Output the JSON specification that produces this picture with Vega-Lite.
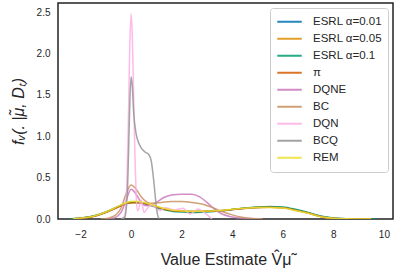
{
  "$schema": "https://vega.github.io/schema/vega-lite/v6.json",
  "width": 335,
  "height": 216,
  "autosize": "none",
  "padding": {"left": 58, "top": 3, "right": 4, "bottom": 53},
  "config": {
    "font": "Liberation Sans",
    "view": {"stroke": "#222222", "strokeWidth": 1.5},
    "axis": {"grid": false, "domain": false, "ticks": false, "labelFontSize": 10, "labelColor": "#262626", "titleColor": "#262626", "titleFontWeight": "normal", "titleFontSize": 16}
  },
  "datasets": {
    "d": [
      {"s":"ESRL α=0.01","x":-2.3,"y":0.002},{"s":"ESRL α=0.01","x":-2,"y":0.01},{"s":"ESRL α=0.01","x":-1.5,"y":0.032},{"s":"ESRL α=0.01","x":-1,"y":0.082},{"s":"ESRL α=0.01","x":-0.5,"y":0.15},{"s":"ESRL α=0.01","x":-0.2,"y":0.19},{"s":"ESRL α=0.01","x":0.1,"y":0.205},{"s":"ESRL α=0.01","x":0.4,"y":0.2},{"s":"ESRL α=0.01","x":0.8,"y":0.17},{"s":"ESRL α=0.01","x":1.2,"y":0.13},{"s":"ESRL α=0.01","x":1.6,"y":0.105},{"s":"ESRL α=0.01","x":2,"y":0.095},{"s":"ESRL α=0.01","x":2.5,"y":0.09},{"s":"ESRL α=0.01","x":3,"y":0.095},{"s":"ESRL α=0.01","x":3.5,"y":0.1},{"s":"ESRL α=0.01","x":4,"y":0.115},{"s":"ESRL α=0.01","x":4.5,"y":0.13},{"s":"ESRL α=0.01","x":5,"y":0.14},{"s":"ESRL α=0.01","x":5.5,"y":0.145},{"s":"ESRL α=0.01","x":6,"y":0.14},{"s":"ESRL α=0.01","x":6.5,"y":0.11},{"s":"ESRL α=0.01","x":7,"y":0.075},{"s":"ESRL α=0.01","x":7.5,"y":0.03},{"s":"ESRL α=0.01","x":8,"y":0.01},{"s":"ESRL α=0.01","x":8.5,"y":0.003},{"s":"ESRL α=0.01","x":9,"y":0.001},{"s":"ESRL α=0.01","x":9.5,"y":0},

      {"s":"ESRL α=0.05","x":-2.3,"y":0.002},{"s":"ESRL α=0.05","x":-2,"y":0.01},{"s":"ESRL α=0.05","x":-1.5,"y":0.031},{"s":"ESRL α=0.05","x":-1,"y":0.08},{"s":"ESRL α=0.05","x":-0.5,"y":0.148},{"s":"ESRL α=0.05","x":-0.2,"y":0.188},{"s":"ESRL α=0.05","x":0.1,"y":0.203},{"s":"ESRL α=0.05","x":0.4,"y":0.198},{"s":"ESRL α=0.05","x":0.8,"y":0.168},{"s":"ESRL α=0.05","x":1.2,"y":0.13},{"s":"ESRL α=0.05","x":1.6,"y":0.104},{"s":"ESRL α=0.05","x":2,"y":0.094},{"s":"ESRL α=0.05","x":2.5,"y":0.09},{"s":"ESRL α=0.05","x":3,"y":0.094},{"s":"ESRL α=0.05","x":3.5,"y":0.1},{"s":"ESRL α=0.05","x":4,"y":0.114},{"s":"ESRL α=0.05","x":4.5,"y":0.129},{"s":"ESRL α=0.05","x":5,"y":0.139},{"s":"ESRL α=0.05","x":5.5,"y":0.143},{"s":"ESRL α=0.05","x":6,"y":0.137},{"s":"ESRL α=0.05","x":6.5,"y":0.108},{"s":"ESRL α=0.05","x":7,"y":0.072},{"s":"ESRL α=0.05","x":7.5,"y":0.03},{"s":"ESRL α=0.05","x":8,"y":0.01},{"s":"ESRL α=0.05","x":8.5,"y":0.003},{"s":"ESRL α=0.05","x":9,"y":0.001},{"s":"ESRL α=0.05","x":9.5,"y":0},

      {"s":"ESRL α=0.1","x":-2.4,"y":0.002},{"s":"ESRL α=0.1","x":-2,"y":0.012},{"s":"ESRL α=0.1","x":-1.5,"y":0.036},{"s":"ESRL α=0.1","x":-1,"y":0.085},{"s":"ESRL α=0.1","x":-0.5,"y":0.152},{"s":"ESRL α=0.1","x":-0.2,"y":0.188},{"s":"ESRL α=0.1","x":0.1,"y":0.2},{"s":"ESRL α=0.1","x":0.4,"y":0.193},{"s":"ESRL α=0.1","x":0.8,"y":0.16},{"s":"ESRL α=0.1","x":1.2,"y":0.12},{"s":"ESRL α=0.1","x":1.6,"y":0.095},{"s":"ESRL α=0.1","x":2,"y":0.085},{"s":"ESRL α=0.1","x":2.5,"y":0.08},{"s":"ESRL α=0.1","x":3,"y":0.086},{"s":"ESRL α=0.1","x":3.5,"y":0.097},{"s":"ESRL α=0.1","x":4,"y":0.115},{"s":"ESRL α=0.1","x":4.5,"y":0.134},{"s":"ESRL α=0.1","x":5,"y":0.146},{"s":"ESRL α=0.1","x":5.5,"y":0.152},{"s":"ESRL α=0.1","x":6,"y":0.146},{"s":"ESRL α=0.1","x":6.5,"y":0.118},{"s":"ESRL α=0.1","x":7,"y":0.08},{"s":"ESRL α=0.1","x":7.5,"y":0.036},{"s":"ESRL α=0.1","x":8,"y":0.012},{"s":"ESRL α=0.1","x":8.5,"y":0.004},{"s":"ESRL α=0.1","x":9,"y":0.001},{"s":"ESRL α=0.1","x":9.7,"y":0},

      {"s":"π","x":-2.3,"y":0.002},{"s":"π","x":-2,"y":0.009},{"s":"π","x":-1.5,"y":0.03},{"s":"π","x":-1,"y":0.078},{"s":"π","x":-0.5,"y":0.145},{"s":"π","x":-0.2,"y":0.183},{"s":"π","x":0.1,"y":0.197},{"s":"π","x":0.4,"y":0.192},{"s":"π","x":0.8,"y":0.165},{"s":"π","x":1.2,"y":0.128},{"s":"π","x":1.6,"y":0.104},{"s":"π","x":2,"y":0.094},{"s":"π","x":2.5,"y":0.09},{"s":"π","x":3,"y":0.094},{"s":"π","x":3.5,"y":0.1},{"s":"π","x":4,"y":0.114},{"s":"π","x":4.5,"y":0.128},{"s":"π","x":5,"y":0.138},{"s":"π","x":5.5,"y":0.142},{"s":"π","x":6,"y":0.136},{"s":"π","x":6.5,"y":0.107},{"s":"π","x":7,"y":0.072},{"s":"π","x":7.5,"y":0.03},{"s":"π","x":8,"y":0.01},{"s":"π","x":8.5,"y":0.003},{"s":"π","x":9,"y":0.001},{"s":"π","x":9.5,"y":0},

      {"s":"DQNE","x":-1,"y":0},{"s":"DQNE","x":-0.7,"y":0.01},{"s":"DQNE","x":-0.4,"y":0.08},{"s":"DQNE","x":-0.2,"y":0.22},{"s":"DQNE","x":0,"y":0.36},{"s":"DQNE","x":0.2,"y":0.3},{"s":"DQNE","x":0.4,"y":0.2},{"s":"DQNE","x":0.6,"y":0.16},{"s":"DQNE","x":0.8,"y":0.165},{"s":"DQNE","x":1.0,"y":0.2},{"s":"DQNE","x":1.3,"y":0.26},{"s":"DQNE","x":1.6,"y":0.29},{"s":"DQNE","x":2,"y":0.3},{"s":"DQNE","x":2.4,"y":0.3},{"s":"DQNE","x":2.7,"y":0.27},{"s":"DQNE","x":3,"y":0.2},{"s":"DQNE","x":3.3,"y":0.12},{"s":"DQNE","x":3.6,"y":0.06},{"s":"DQNE","x":4,"y":0.025},{"s":"DQNE","x":4.5,"y":0.008},{"s":"DQNE","x":5,"y":0.002},{"s":"DQNE","x":5.2,"y":0},

      {"s":"BC","x":-1.2,"y":0},{"s":"BC","x":-0.9,"y":0.01},{"s":"BC","x":-0.6,"y":0.05},{"s":"BC","x":-0.4,"y":0.13},{"s":"BC","x":-0.2,"y":0.3},{"s":"BC","x":0,"y":0.41},{"s":"BC","x":0.2,"y":0.36},{"s":"BC","x":0.4,"y":0.27},{"s":"BC","x":0.6,"y":0.21},{"s":"BC","x":0.8,"y":0.19},{"s":"BC","x":1.2,"y":0.2},{"s":"BC","x":1.6,"y":0.21},{"s":"BC","x":2,"y":0.21},{"s":"BC","x":2.4,"y":0.2},{"s":"BC","x":2.8,"y":0.18},{"s":"BC","x":3.2,"y":0.14},{"s":"BC","x":3.6,"y":0.09},{"s":"BC","x":4,"y":0.05},{"s":"BC","x":4.4,"y":0.02},{"s":"BC","x":4.8,"y":0.005},{"s":"BC","x":5.2,"y":0},

      {"s":"DQN","x":-0.35,"y":0},{"s":"DQN","x":-0.25,"y":0.05},{"s":"DQN","x":-0.15,"y":0.6},{"s":"DQN","x":-0.1,"y":1.3},{"s":"DQN","x":-0.05,"y":2.1},{"s":"DQN","x":0,"y":2.48},{"s":"DQN","x":0.05,"y":2.2},{"s":"DQN","x":0.1,"y":1.5},{"s":"DQN","x":0.15,"y":0.8},{"s":"DQN","x":0.2,"y":0.3},{"s":"DQN","x":0.25,"y":0.1},{"s":"DQN","x":0.3,"y":0.12},{"s":"DQN","x":0.4,"y":0.23},{"s":"DQN","x":0.51,"y":0.08},{"s":"DQN","x":0.65,"y":0.13},{"s":"DQN","x":0.8,"y":0.17},{"s":"DQN","x":0.95,"y":0.14},{"s":"DQN","x":1.15,"y":0.1},{"s":"DQN","x":1.34,"y":0.14},{"s":"DQN","x":1.55,"y":0.12},{"s":"DQN","x":1.74,"y":0.11},{"s":"DQN","x":2.05,"y":0.13},{"s":"DQN","x":2.33,"y":0.06},{"s":"DQN","x":2.65,"y":0.12},{"s":"DQN","x":2.92,"y":0.07},{"s":"DQN","x":3.2,"y":0},

      {"s":"BCQ","x":-0.4,"y":0},{"s":"BCQ","x":-0.25,"y":0.02},{"s":"BCQ","x":-0.15,"y":0.3},{"s":"BCQ","x":-0.1,"y":0.8},{"s":"BCQ","x":-0.05,"y":1.4},{"s":"BCQ","x":0,"y":1.72},{"s":"BCQ","x":0.05,"y":1.6},{"s":"BCQ","x":0.1,"y":1.3},{"s":"BCQ","x":0.2,"y":1.03},{"s":"BCQ","x":0.3,"y":0.92},{"s":"BCQ","x":0.4,"y":0.86},{"s":"BCQ","x":0.55,"y":0.81},{"s":"BCQ","x":0.7,"y":0.78},{"s":"BCQ","x":0.8,"y":0.7},{"s":"BCQ","x":0.9,"y":0.45},{"s":"BCQ","x":1.0,"y":0.15},{"s":"BCQ","x":1.05,"y":0.05},{"s":"BCQ","x":1.12,"y":0},

      {"s":"REM","x":-2.3,"y":0.002},{"s":"REM","x":-2,"y":0.01},{"s":"REM","x":-1.5,"y":0.033},{"s":"REM","x":-1,"y":0.084},{"s":"REM","x":-0.5,"y":0.155},{"s":"REM","x":-0.2,"y":0.197},{"s":"REM","x":0.1,"y":0.214},{"s":"REM","x":0.4,"y":0.207},{"s":"REM","x":0.8,"y":0.175},{"s":"REM","x":1.2,"y":0.135},{"s":"REM","x":1.6,"y":0.108},{"s":"REM","x":2,"y":0.097},{"s":"REM","x":2.5,"y":0.093},{"s":"REM","x":3,"y":0.097},{"s":"REM","x":3.5,"y":0.103},{"s":"REM","x":4,"y":0.117},{"s":"REM","x":4.5,"y":0.13},{"s":"REM","x":5,"y":0.138},{"s":"REM","x":5.5,"y":0.14},{"s":"REM","x":6,"y":0.133},{"s":"REM","x":6.5,"y":0.104},{"s":"REM","x":7,"y":0.07},{"s":"REM","x":7.5,"y":0.028},{"s":"REM","x":8,"y":0.009},{"s":"REM","x":8.5,"y":0.003},{"s":"REM","x":9,"y":0.001},{"s":"REM","x":9.5,"y":0}
    ]
  },
  "data": {"name": "d"},
  "mark": {"type": "line", "strokeWidth": 1.5, "opacity": 0.85, "interpolate": "monotone", "clip": true},
  "encoding": {
    "x": {"field": "x", "type": "quantitative", "scale": {"domain": [-2.89, 10.36], "nice": false, "zero": false},
      "axis": {"values": [-2, 0, 2, 4, 6, 8, 10], "labelPadding": 10, "title": "Value Estimate V̂μ̃", "titlePadding": 12}},
    "y": {"field": "y", "type": "quantitative", "scale": {"domain": [0, 2.61], "nice": false},
      "axis": {"values": [0, 0.5, 1, 1.5, 2, 2.5], "format": ".1f", "labelPadding": 8, "title": "fᵥ(. |μ̃, Dₜ)", "titleFontStyle": "italic", "titlePadding": 10}},
    "color": {"field": "s", "type": "nominal",
      "scale": {"domain": ["ESRL α=0.01", "ESRL α=0.05", "ESRL α=0.1", "π", "DQNE", "BC", "DQN", "BCQ", "REM"],
        "range": ["#0173b2", "#de8f05", "#029e73", "#d55e00", "#cc78bc", "#ca9161", "#fbafe4", "#949494", "#ece133"]},
      "legend": {"title": null, "orient": "top-right", "offset": 5, "symbolType": "stroke", "symbolSize": 600, "symbolStrokeWidth": 2, "labelFontSize": 11.5, "labelColor": "#262626", "labelOffset": 10, "padding": 6, "rowPadding": 1, "clipHeight": 15.5, "strokeColor": "#cccccc", "fillColor": "white", "cornerRadius": 3}}
  }
}
